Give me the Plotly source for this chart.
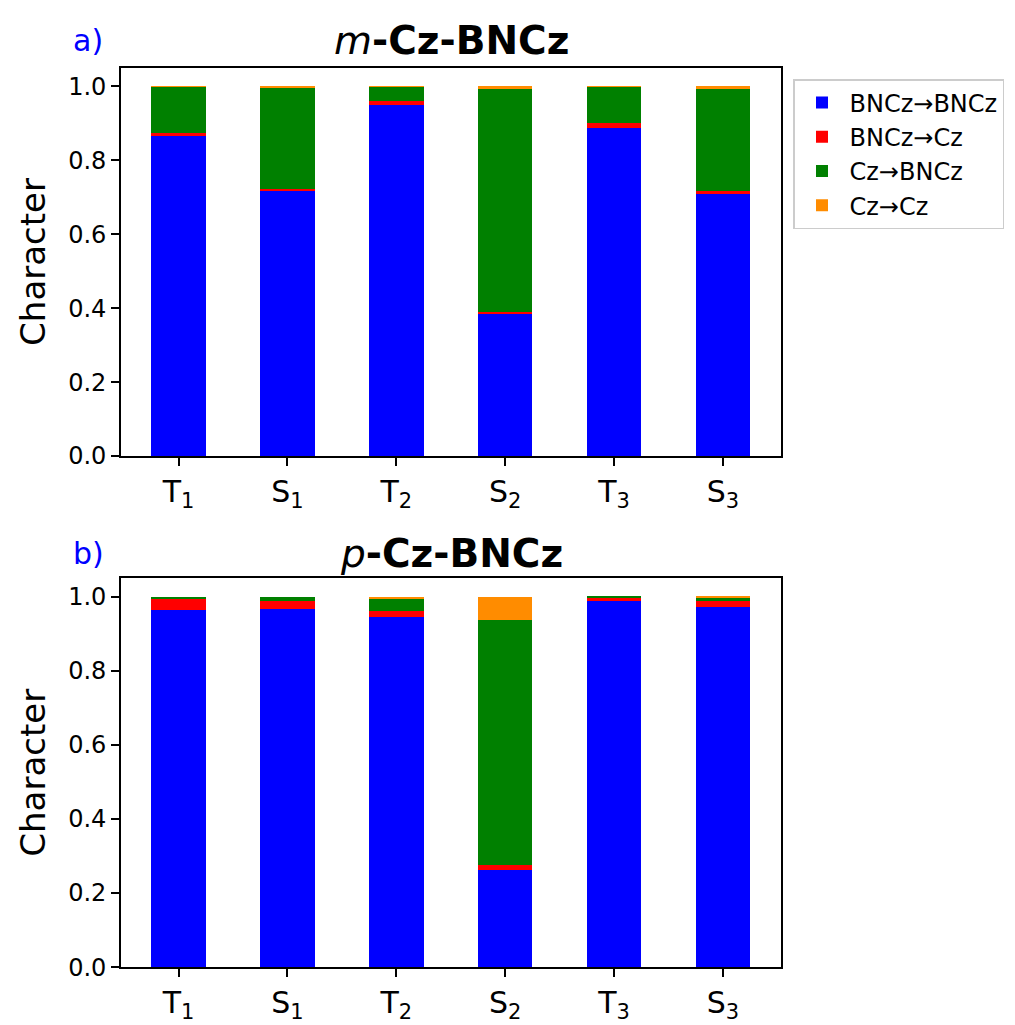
import plotly.graph_objects as go

states = ["T<sub>1</sub>", "S<sub>1</sub>", "T<sub>2</sub>", "S<sub>2</sub>", "T<sub>3</sub>", "S<sub>3</sub>"]
series_names = ["BNCz→BNCz", "BNCz→Cz", "Cz→BNCz", "Cz→Cz"]
colors = ["#0000ff", "#ff0000", "#008000", "#ff8c00"]

# a) m-Cz-BNCz
m_bncz_bncz = [0.867, 0.716, 0.949, 0.387, 0.889, 0.708]
m_bncz_cz   = [0.008, 0.007, 0.012, 0.003, 0.012, 0.009]
m_cz_bncz   = [0.124, 0.273, 0.038, 0.603, 0.098, 0.275]
m_cz_cz     = [0.001, 0.004, 0.001, 0.007, 0.001, 0.008]

# b) p-Cz-BNCz
p_bncz_bncz = [0.964, 0.966, 0.946, 0.262, 0.989, 0.971]
p_bncz_cz   = [0.029, 0.023, 0.016, 0.012, 0.008, 0.016]
p_cz_bncz   = [0.007, 0.011, 0.033, 0.662, 0.003, 0.009]
p_cz_cz     = [0.000, 0.000, 0.005, 0.064, 0.000, 0.004]

xpos = list(range(len(states)))
FONT = "DejaVu Sans"

fig = go.Figure()
panels = [
    ("x", "y", [m_bncz_bncz, m_bncz_cz, m_cz_bncz, m_cz_cz], True),
    ("x2", "y2", [p_bncz_bncz, p_bncz_cz, p_cz_bncz, p_cz_cz], False),
]
for xa, ya, data, show in panels:
    for name, vals, col in zip(series_names, data, colors):
        fig.add_trace(go.Bar(
            x=xpos, y=vals, name=name, width=0.5,
            marker=dict(color=col, line=dict(width=0)),
            xaxis=xa, yaxis=ya, showlegend=show,
        ))

axis_common = dict(
    showline=True, mirror=True, linecolor="black", linewidth=1.8,
    ticks="outside", ticklen=8, tickwidth=1.5, tickcolor="black",
    showgrid=False, zeroline=False,
)
xdom = [113/1015, 773/1015]
fig.update_layout(
    width=1015, height=1025,
    margin=dict(l=0, r=0, t=0, b=0),
    paper_bgcolor="white", plot_bgcolor="white",
    barmode="stack", bargap=0,
    font=dict(family=FONT, color="black"),
    xaxis=dict(domain=xdom, anchor="y", range=[-0.528, 5.533],
               tickvals=xpos, ticktext=states, tickfont=dict(size=30), **axis_common),
    yaxis=dict(domain=[1-454.3/1025, 1-60.7/1025], anchor="x", range=[0, 1.05],
               tickvals=[0, 0.2, 0.4, 0.6, 0.8, 1.0], tickformat=".1f",
               tickfont=dict(size=24),
               title=dict(text="Character", font=dict(size=34), standoff=12), **axis_common),
    xaxis2=dict(domain=xdom, anchor="y2", range=[-0.528, 5.533],
                tickvals=xpos, ticktext=states, tickfont=dict(size=30), **axis_common),
    yaxis2=dict(domain=[1-972.4/1025, 1-578.3/1025], anchor="x2", range=[0, 1.05],
                tickvals=[0, 0.2, 0.4, 0.6, 0.8, 1.0], tickformat=".1f",
                tickfont=dict(size=24),
                title=dict(text="Character", font=dict(size=34), standoff=12), **axis_common),
    legend=dict(
        x=785/1015, y=1-72/1025, xanchor="left", yanchor="top",
        bordercolor="#cccccc", borderwidth=1.5, bgcolor="white",
        font=dict(size=24, family=FONT), traceorder="normal",
        itemwidth=45, tracegroupgap=0,
    ),
    annotations=[
        dict(text="a)", x=63/1015, y=1-33/1025, xref="paper", yref="paper",
             xanchor="left", yanchor="middle", showarrow=False,
             font=dict(size=30, color="#0000ff")),
        dict(text="<i>m</i><b>-Cz-BNCz</b>", x=443/1015, y=1-33/1025, xref="paper", yref="paper",
             xanchor="center", yanchor="middle", showarrow=False,
             font=dict(size=39, color="black")),
        dict(text="b)", x=63/1015, y=1-553/1025, xref="paper", yref="paper",
             xanchor="left", yanchor="middle", showarrow=False,
             font=dict(size=30, color="#0000ff")),
        dict(text="<i>p</i><b>-Cz-BNCz</b>", x=443/1015, y=1-553/1025, xref="paper", yref="paper",
             xanchor="center", yanchor="middle", showarrow=False,
             font=dict(size=39, color="black")),
    ],
)

fig.write_html("out.html")
